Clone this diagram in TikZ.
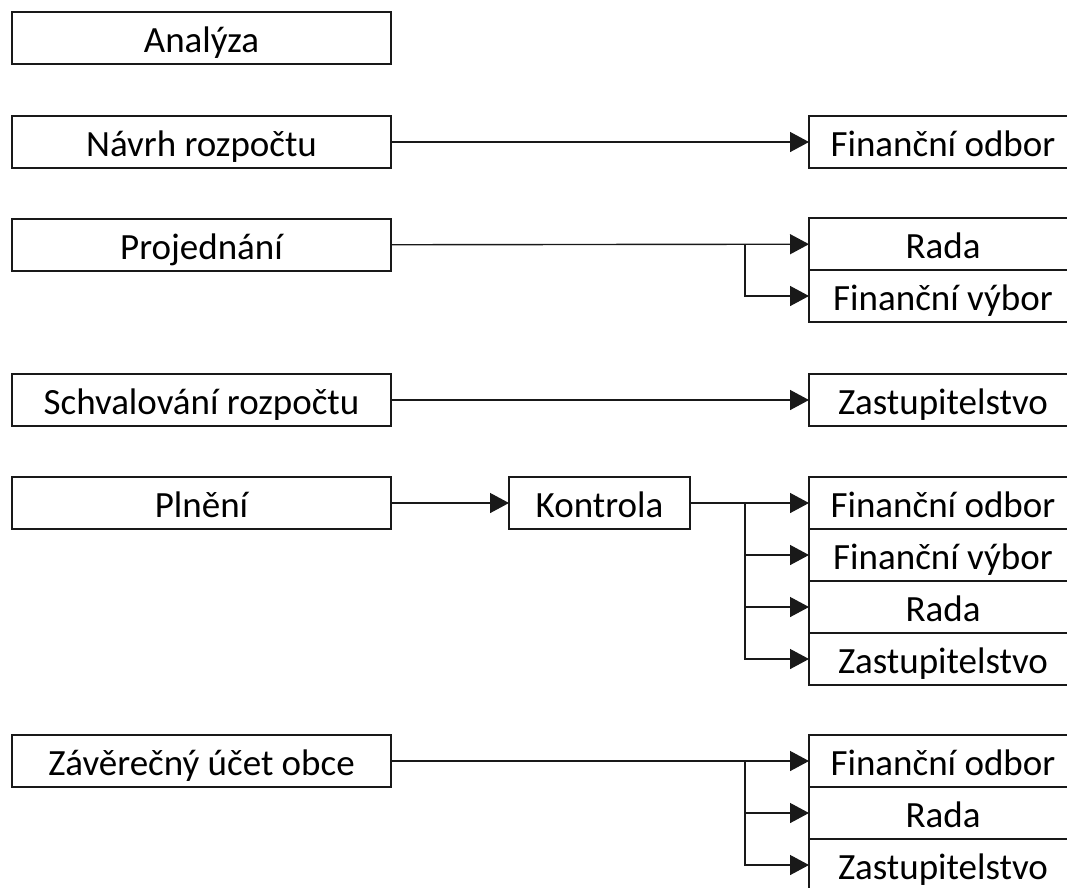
\documentclass[tikz,border=0pt]{standalone}
\usepackage{fontspec}
\setmainfont{Carlito}
\usetikzlibrary{arrows.meta, positioning}

\begin{document}
\begin{tikzpicture}[x=1pt, y=-1pt,
    stage/.style={draw=black!90, line width=1.4pt, outer sep=0pt, inner sep=0pt,
      minimum width=379pt, minimum height=52pt, text height=29pt, text depth=0pt,
      font=\fontsize{37}{44}\selectfont},
    organ/.style={stage, minimum width=268pt},
    flow/.style={draw=black!90, line width=1.4pt, -{Triangle[length=19pt,width=20pt]}}]
        \useasboundingbox (0,0) rectangle (1067,887);
        \clip (0,0) rectangle (1067,887);
        % Stages of the budget process
        \node[stage] (analyza) at (201.5,38) {Analýza};
        \node[stage] (navrh) at (201.5,142) {Návrh rozpočtu};
        \node[stage] (projed) at (201.5,245) {Projednání};
        \node[stage] (schval) at (201.5,400) {Schvalování rozpočtu};
        \node[stage] (plneni) at (201.5,503) {Plnění};
        \node[stage] (zaver) at (201.5,761) {Závěrečný účet obce};
        \node[stage, minimum width=181pt] (kontrola) at (599.5,503) {Kontrola};
        % Responsible bodies
        \node[organ] (fo1) at (943,142) {Finanční odbor};
        \node[organ] (rada1) at (943,244) {Rada};
        \node[organ, below=0pt of rada1] (fv1) {Finanční výbor};
        \node[organ] (zast1) at (943,400) {Zastupitelstvo};
        \node[organ] (fo2) at (943,503) {Finanční odbor};
        \node[organ, below=0pt of fo2] (fv2) {Finanční výbor};
        \node[organ, below=0pt of fv2] (rada2) {Rada};
        \node[organ, below=0pt of rada2] (zast2) {Zastupitelstvo};
        \node[organ] (fo3) at (943,761) {Finanční odbor};
        \node[organ, below=0pt of fo3] (rada3) {Rada};
        \node[organ, below=0pt of rada3] (zast3) {Zastupitelstvo};
        % Straight arrows
        \draw[flow] (navrh) -- (fo1);
        \draw[flow] (schval) -- (zast1);
        \draw[flow] (plneni) -- (kontrola);
        % Branching arrows
        \draw[flow] (projed) -- (rada1);
        \draw[flow] ([xshift=-64pt]rada1.west) |- (fv1);
        \draw[flow] (kontrola) -- (fo2);
        \foreach \n in {fv2,rada2,zast2}
          \draw[flow] ([xshift=-64pt]fo2.west) |- (\n);
        \draw[flow] (zaver) -- (fo3);
        \foreach \n in {rada3,zast3}
          \draw[flow] ([xshift=-64pt]fo3.west) |- (\n);
      \end{tikzpicture}
\end{document}
